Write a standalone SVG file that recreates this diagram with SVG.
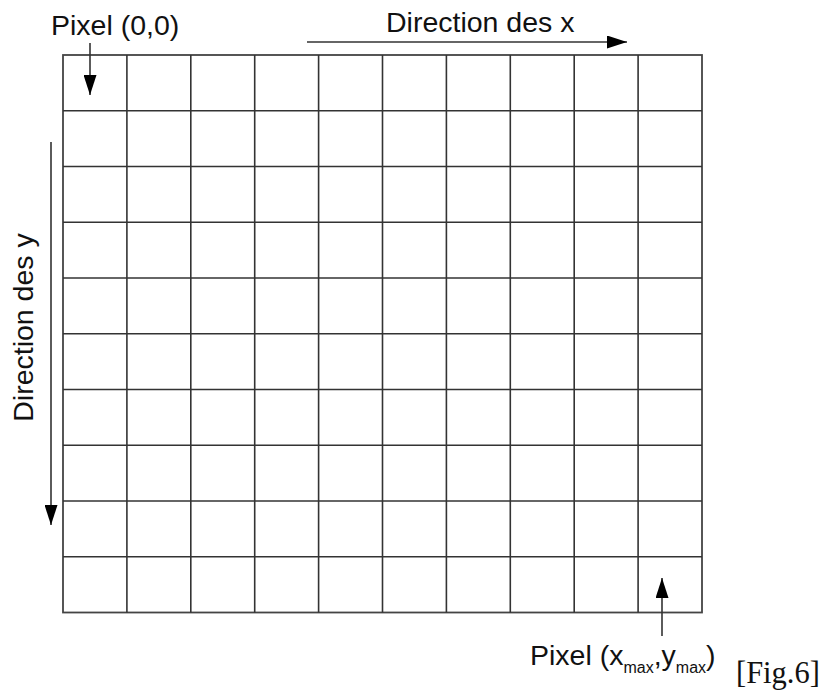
<svg xmlns="http://www.w3.org/2000/svg" width="823" height="695" viewBox="0 0 823 695">
<defs>
<style>
.grid line{stroke:#333;stroke-width:1.6}
.grid rect{fill:none;stroke:#444;stroke-width:1.8}
.conn line{stroke:#333;stroke-width:1.6;fill:none}
.lbl{font-family:"Liberation Sans",Arial,sans-serif;font-size:28.5px;fill:#111}
.sub{font-size:16px}
.fig{font-family:"Liberation Serif","Times New Roman",serif;font-size:30.5px;fill:#111}
</style>
<marker id="ah" markerUnits="userSpaceOnUse" markerWidth="20" markerHeight="13" refX="20" refY="6.5" orient="auto">
<path d="M0,0 L20,6.5 L0,13 z" fill="#000"/>
</marker>
</defs>
<rect width="823" height="695" fill="#fff"/>
<g id="grid" class="grid">
<rect x="63" y="55" width="639" height="557.5"/>
<line x1="126.9" y1="55" x2="126.9" y2="612.5"/>
<line x1="190.8" y1="55" x2="190.8" y2="612.5"/>
<line x1="254.7" y1="55" x2="254.7" y2="612.5"/>
<line x1="318.6" y1="55" x2="318.6" y2="612.5"/>
<line x1="382.5" y1="55" x2="382.5" y2="612.5"/>
<line x1="446.4" y1="55" x2="446.4" y2="612.5"/>
<line x1="510.3" y1="55" x2="510.3" y2="612.5"/>
<line x1="574.2" y1="55" x2="574.2" y2="612.5"/>
<line x1="638.1" y1="55" x2="638.1" y2="612.5"/>
<line x1="63" y1="110.75" x2="702" y2="110.75"/>
<line x1="63" y1="166.5" x2="702" y2="166.5"/>
<line x1="63" y1="222.25" x2="702" y2="222.25"/>
<line x1="63" y1="278" x2="702" y2="278"/>
<line x1="63" y1="333.75" x2="702" y2="333.75"/>
<line x1="63" y1="389.5" x2="702" y2="389.5"/>
<line x1="63" y1="445.25" x2="702" y2="445.25"/>
<line x1="63" y1="501" x2="702" y2="501"/>
<line x1="63" y1="556.75" x2="702" y2="556.75"/>
</g>
<g id="connectors" class="conn">
<line x1="90" y1="43" x2="90" y2="95" marker-end="url(#ah)"/>
<line x1="307" y1="42" x2="627" y2="42" marker-end="url(#ah)"/>
<line x1="51" y1="142" x2="51" y2="525" marker-end="url(#ah)"/>
<line x1="662" y1="636" x2="662" y2="578" marker-end="url(#ah)"/>
</g>
<g id="label-origin"><text class="lbl" x="51" y="34.5">Pixel (0,0)</text></g>
<g id="label-x"><text class="lbl" x="386" y="31.5">Direction des x</text></g>
<g id="label-y"><text class="lbl" text-anchor="middle" transform="translate(33,327.5) rotate(-90)">Direction des y</text></g>
<g id="label-max"><text class="lbl" x="530" y="665">Pixel (x<tspan class="sub" dy="8">max</tspan><tspan dy="-8">,y</tspan><tspan class="sub" dy="8">max</tspan><tspan dy="-8">)</tspan></text></g>
<g id="label-fig"><text class="fig" x="736" y="683">[Fig.6]</text></g>
</svg>
